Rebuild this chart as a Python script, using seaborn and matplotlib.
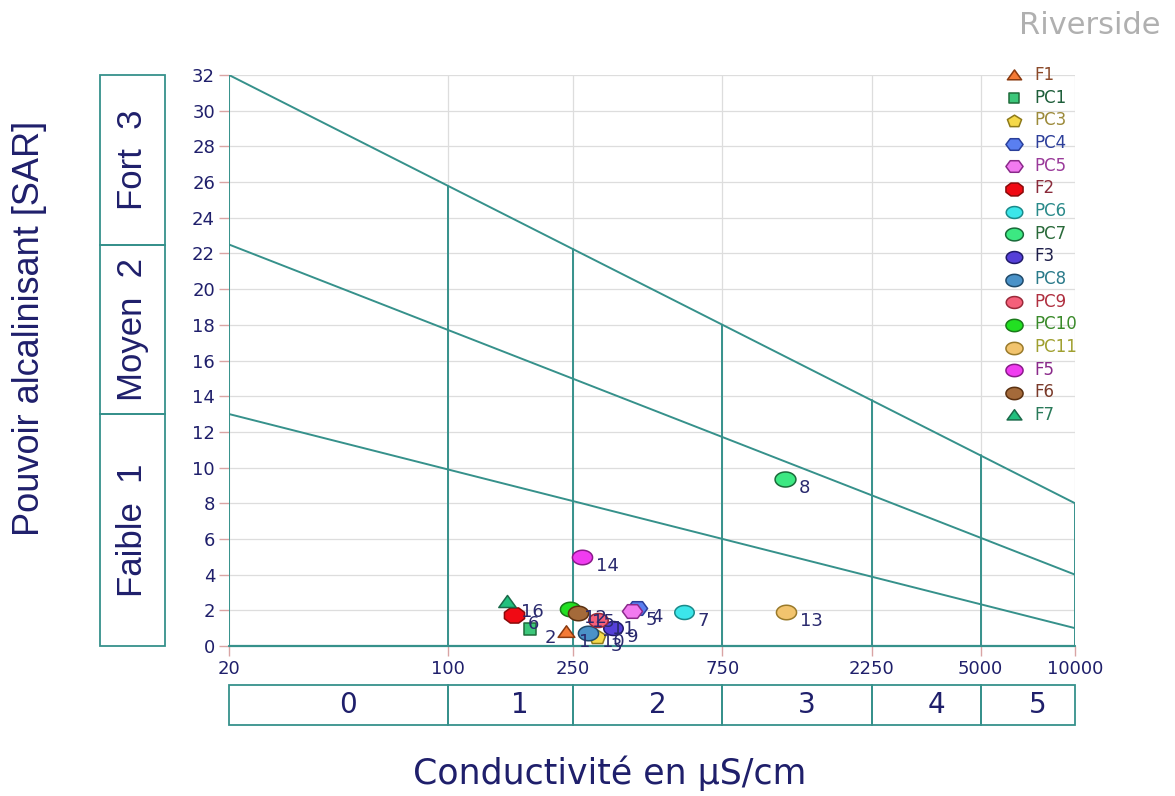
import numpy as np
import pandas as pd
import matplotlib
matplotlib.use("Agg")
import matplotlib.pyplot as plt
from matplotlib.path import Path
from matplotlib.patches import Rectangle
from matplotlib.ticker import FixedLocator, NullLocator, FixedFormatter
import seaborn as sns

# ---- sample data -------------------------------------------------------
samples = ["F1", "PC1", "PC3", "PC4", "PC5", "F2", "PC6", "PC7",
           "F3", "PC8", "PC9", "PC10", "PC11", "F5", "F6", "F7"]
conductivity = [237, 183, 298, 400, 385, 162, 565, 1190,
                336, 280, 300, 245, 1200, 267, 260, 154]      # µS/cm
sar = [0.75, 0.95, 0.5, 2.15, 1.95, 1.75, 1.9, 9.35,
       1.0, 0.75, 1.45, 2.05, 1.9, 5.0, 1.85, 2.4]
point_ids = list(range(1, len(samples) + 1))

# ---- Riverside classes -------------------------------------------------
ce_bounds = [20, 100, 250, 750, 2250, 5000, 10000]
ce_tick_labels = ["20", "100", "250", "750", "2250", "5000", "10000"]
salinity_classes = ["0", "1", "2", "3", "4", "5"]
sar_at_min_ce = [13, 22.5, 32]      # alkalinity limits at 20 µS/cm
sar_at_max_ce = [1, 4, 8]           # alkalinity limits at 10000 µS/cm
alkalinity_classes = ["Faible  1", "Moyen  2", "Fort  3"]
sar_ticks = list(range(0, 33, 2))

# ---- marker styles -----------------------------------------------------
def poly_marker(n, start_deg, yscale):
    ang = np.deg2rad(start_deg + np.arange(n) * 360.0 / n)
    verts = np.column_stack([np.cos(ang), np.sin(ang) * yscale])
    verts = np.vstack([verts, verts[:1]])
    return Path(verts, closed=True)

tri = poly_marker(3, 90, 0.80)
sq = poly_marker(4, 45, 0.90)
pent = poly_marker(5, 90, 0.85)
hexa = poly_marker(6, 0, 0.78)
octo = poly_marker(8, 22.5, 0.75)
ell = poly_marker(64, 0, 0.72)

markers = [tri, sq, pent, hexa, hexa, octo, ell, ell,
           ell, ell, ell, ell, ell, ell, ell, tri]
sizes = [12, 9, 12, 14.5, 14.5, 14.5, 14, 15,
         14, 14.5, 14, 14.5, 14.5, 14.5, 14.5, 12.5]
fills = ["#F47A35", "#3CC77A", "#F5D94A", "#5A7FF0", "#F27AF0", "#F00A14",
         "#3CE6EA", "#3CE882", "#5540D8", "#4A92C8", "#F5607A", "#22E022",
         "#F2C46E", "#F03CF0", "#A46A3A", "#22C07E"]
edges = ["#8A3A10", "#1E6B3A", "#8E7A1A", "#2A3F9A", "#8A2A8A", "#8A0A0A",
         "#1A8A8A", "#1A6A3A", "#201A6A", "#1F4A6A", "#9A2A3A", "#1A7A1A",
         "#9A7A2A", "#8A1A8A", "#5A3010", "#1A6A4A"]
text_colors = ["#8B4A2A", "#1E5E3A", "#9C8A3A", "#2D3F9A", "#9A3A9A", "#8A2A3A",
               "#2A8A8A", "#2A6A3A", "#1E1E4A", "#2A7A8A", "#B03040", "#3A8A2A",
               "#A0A030", "#8A2A8A", "#7A3A2A", "#2A7A5A"]

teal = "#36918B"
navy = "#1F1F6B"

sns.set_style("white")
plt.rcParams["font.family"] = ["DejaVu Sans"]

fig = plt.figure(figsize=(11.75, 7.96), dpi=100)
W, H = 1175.0, 796.0
ax = fig.add_axes([229 / W, 1 - 646 / H, (1075 - 229) / W, (646 - 75) / H])

ax.set_xscale("log")
ax.set_xlim(20, 10000)
ax.set_ylim(0, 32)
for s in ax.spines.values():
    s.set_visible(False)

ax.xaxis.set_major_locator(FixedLocator(ce_bounds))
ax.xaxis.set_major_formatter(FixedFormatter(ce_tick_labels))
ax.xaxis.set_minor_locator(NullLocator())
ax.yaxis.set_major_locator(FixedLocator(sar_ticks))
ax.tick_params(axis="both", which="major", length=7, width=1, color="#D9A4A4",
               labelcolor=navy, labelsize=13, pad=3)
ax.tick_params(left=True, bottom=True)
ax.grid(True, color="#DDDDDD", linewidth=0.9, zorder=0)
ax.set_axisbelow(True)

# class boundaries
lx0, lx1 = np.log10(ce_bounds[0]), np.log10(ce_bounds[-1])
for y0, y1 in zip(sar_at_min_ce, sar_at_max_ce):
    ax.plot([ce_bounds[0], ce_bounds[-1]], [y0, y1], color=teal, lw=1.4, zorder=2)
top0, top1 = sar_at_min_ce[-1], sar_at_max_ce[-1]
for b in ce_bounds:
    frac = (np.log10(b) - lx0) / (lx1 - lx0)
    ytop = top0 + (top1 - top0) * frac
    ax.plot([b, b], [0, ytop], color=teal, lw=1.4, zorder=2)
ax.plot([ce_bounds[0], ce_bounds[-1]], [0, 0], color=teal, lw=1.6, zorder=2,
        clip_on=False)

# samples
for i, name in enumerate(samples):
    sns.scatterplot(x=[conductivity[i]], y=[sar[i]], marker=markers[i],
                    s=sizes[i] ** 2, color=fills[i], edgecolor=edges[i],
                    linewidth=1.1, label=name, ax=ax, zorder=5, clip_on=False)
for i, pid in enumerate(point_ids):
    ax.annotate(str(pid), (conductivity[i], sar[i]), xytext=(10, -6.5),
                textcoords="offset points", ha="left", va="center",
                fontsize=13, color="#2A2A6E", zorder=6)

leg = ax.legend(loc="upper left", bbox_to_anchor=(1004 / W, 1 - 66 / H),
                bbox_transform=fig.transFigure, frameon=False, fontsize=12,
                markerscale=0.85, handlelength=1.2, handletextpad=0.6,
                labelspacing=0.28, borderpad=0, borderaxespad=0)
for t, c in zip(leg.get_texts(), text_colors):
    t.set_color(c)

# alkalinity class boxes
axl = fig.add_axes([100 / W, 1 - 646 / H, 65 / W, (646 - 75) / H])
axl.set_xlim(0, 1)
axl.set_ylim(0, 32)
axl.axis("off")
bounds_y = [0] + sar_at_min_ce
for k, lab in enumerate(alkalinity_classes):
    y0, y1 = bounds_y[k], bounds_y[k + 1]
    axl.add_patch(Rectangle((0, y0), 1, y1 - y0, fill=False, edgecolor=teal,
                            lw=1.3, clip_on=False))
    axl.text(0.5, (y0 + y1) / 2, lab, rotation=90, ha="center", va="center",
             fontsize=25, color=navy, family=["Liberation Sans Narrow", "Liberation Sans"])

# salinity class boxes
axb = fig.add_axes([229 / W, 1 - 725 / H, (1075 - 229) / W, 40 / H])
axb.set_xscale("log")
axb.set_xlim(20, 10000)
axb.set_ylim(0, 1)
axb.axis("off")
for k, lab in enumerate(salinity_classes):
    a, b = ce_bounds[k], ce_bounds[k + 1]
    axb.add_patch(Rectangle((a, 0), b - a, 1, fill=False, edgecolor=teal,
                            lw=1.3, clip_on=False))
    axb.annotate(lab, (np.sqrt(a * b), 0.5), xytext=(7, 0), textcoords="offset points",
                 ha="center", va="center", fontsize=20, color=navy)

fig.text(610 / W, 1 - 773 / H, "Conductivité en µS/cm", ha="center", va="center",
         fontsize=25, color=navy)
fig.text(30 / W, 1 - 328 / H, "Pouvoir alcalinisant [SAR]", rotation=90,
         ha="center", va="center", fontsize=26, color=navy,
         family=["Liberation Sans Narrow", "Liberation Sans"])
fig.text(1160 / W, 1 - 25 / H, "Riverside", ha="right", va="center",
         fontsize=22, color="#B0B0B0")

fig.savefig("out.png", dpi=100, facecolor="white")
